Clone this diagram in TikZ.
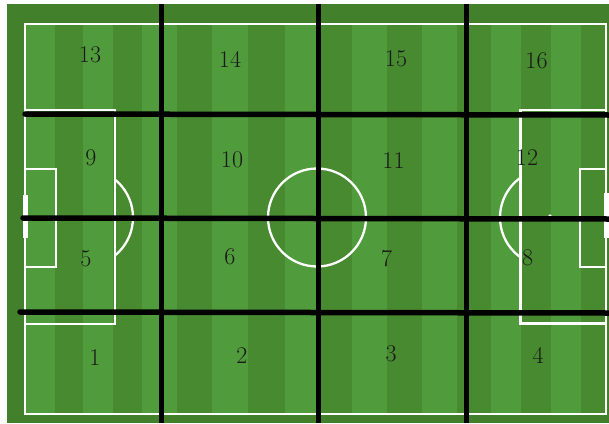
\documentclass[tikz,border=0pt]{standalone}
\definecolor{lightg}{RGB}{80,155,60}
\definecolor{darkg}{RGB}{71,138,48}
\definecolor{marg}{RGB}{66,128,44}
\begin{document}
\begin{tikzpicture}[x=1pt,y=-1pt,
  pline/.style={white, line width=2.3pt},
  gridv/.style={black, line width=5.5pt},
  gridh/.style={black, line width=5.5pt, line cap=round},
  num/.style={font=\fontsize{24}{26}\selectfont, inner sep=0pt, text=black!90}]
\useasboundingbox (0,0) rectangle (609,423);
\fill[white] (0,0) rectangle (609,423);
\fill[marg] (7,4) rectangle (609,423);
% stripes
\foreach \a/\b [count=\i] in {25/55,55/83,83/113,113/142,142/177,177/212,212/248,248/285,285/317,317/352,352/387,387/422,422/457,457/491,491/521,521/551,551/581,581/606}{
  \ifodd\i \fill[lightg] (\a,24) rectangle (\b,414);
  \else \fill[darkg] (\a,24) rectangle (\b,414); \fi
}
% pitch markings
\draw[pline] (25,24) rectangle (606,414);
\draw[pline] (25,110) rectangle (115,324);
\draw[pline] (606,110) rectangle (520.5,323.5);
\draw[pline] (25,169) rectangle (56,267);
\draw[pline] (606,169) rectangle (580,267);
\fill[white] (22.5,195) rectangle (28,238);
\fill[white] (604,193) rectangle (609,238);
\draw[pline] (317,217.5) circle (49pt);
\begin{scope}
  \clip (115,0) rectangle (200,423);
  \draw[pline] (84,217.5) circle (49pt);
\end{scope}
\begin{scope}
  \clip (430,0) rectangle (520.5,423);
  \draw[pline] (549,217.5) circle (49pt);
\end{scope}
\fill[white] (84,217.5) circle (1.8pt);
\fill[white] (550,216) circle (1.8pt);
% grid lines
\draw[gridv] (161.5,4) -- (161.5,423);
\draw[gridv] (318.5,4) -- (318.5,423);
\draw[gridv] (466.5,4) -- (466.5,423);
\draw[gridh] (25,114) -- (609,115);
\draw[gridh] (23,218) -- (609,219);
\draw[gridh] (20,312) -- (609,313);
% zone numbers
\node[num] (n13) at (90,55) {13};
\node[num] (n14) at (230,59) {14};
\node[num] (n15) at (396,59) {15};
\node[num] (n16) at (536.5,61) {16};
\node[num] (n9) at (91,158) {9};
\node[num] (n10) at (232,160) {10};
\node[num] (n11) at (393.5,161) {11};
\node[num] (n12) at (527,158) {12};
\node[num] (n5) at (86,258.5) {5};
\node[num] (n6) at (230,257) {6};
\node[num] (n7) at (386.5,259) {7};
\node[num] (n8) at (527.5,258) {8};
\node[num] (n1) at (95,358) {1};
\node[num] (n2) at (242,356) {2};
\node[num] (n3) at (391,354) {3};
\node[num] (n4) at (538,355) {4};
\end{tikzpicture}
\end{document}
